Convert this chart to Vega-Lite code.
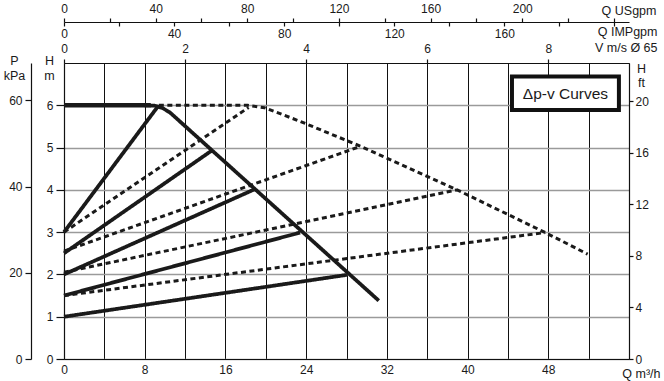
{
  "$schema": "https://vega.github.io/schema/vega-lite/v6.json",
  "width": 565,
  "height": 296,
  "autosize": {"type": "none"},
  "padding": {"left": 64, "top": 63, "right": 35, "bottom": 22},
  "background": "white",
  "config": {
    "view": {"stroke": null},
    "font": "Liberation Sans",
    "axis": {
      "labelFont": "Liberation Sans",
      "titleFont": "Liberation Sans",
      "labelFontSize": 12,
      "titleFontSize": 12.5,
      "titleFontWeight": "normal",
      "labelColor": "#1a1a1a",
      "titleColor": "#1a1a1a",
      "domainColor": "#111111",
      "tickColor": "#111111",
      "domainWidth": 1.2,
      "tickWidth": 1.2,
      "labelFlush": false,
      "labelOverlap": false
    }
  },
  "layer": [
    {
      "layer": [
        {
          "data": {
            "values": [
              {"series": "max6", "kind": "thick", "Q": 0, "H": 6.0},
              {"series": "max6", "kind": "thick", "Q": 8.6, "H": 6.0},
              {"series": "env", "kind": "solid", "Q": 8.0, "H": 6.0},
              {"series": "env", "kind": "solid", "Q": 9.0, "H": 5.99},
              {"series": "env", "kind": "solid", "Q": 9.8, "H": 5.93},
              {"series": "env", "kind": "solid", "Q": 10.5, "H": 5.83},
              {"series": "env", "kind": "solid", "Q": 31.2, "H": 1.38},
              {"series": "S1", "kind": "solid", "Q": 0, "H": 3.0},
              {"series": "S1", "kind": "solid", "Q": 9.36, "H": 5.99},
              {"series": "S2", "kind": "solid", "Q": 0, "H": 2.5},
              {"series": "S2", "kind": "solid", "Q": 14.65, "H": 4.93},
              {"series": "S3", "kind": "solid", "Q": 0, "H": 2.0},
              {"series": "S3", "kind": "solid", "Q": 18.95, "H": 4.02},
              {"series": "S4", "kind": "solid", "Q": 0, "H": 1.5},
              {"series": "S4", "kind": "solid", "Q": 23.4, "H": 2.99},
              {"series": "S5", "kind": "solid", "Q": 0, "H": 1.0},
              {"series": "S5", "kind": "solid", "Q": 28.05, "H": 1.99},
              {"series": "Denv", "kind": "dashed", "Q": 9.4, "H": 6.0},
              {"series": "Denv", "kind": "dashed", "Q": 18.2, "H": 6.0},
              {"series": "Denv", "kind": "dashed", "Q": 19.9, "H": 5.94},
              {"series": "Denv", "kind": "dashed", "Q": 23.4, "H": 5.62},
              {"series": "Denv", "kind": "dashed", "Q": 29.4, "H": 5.03},
              {"series": "Denv", "kind": "dashed", "Q": 38.96, "H": 4.0},
              {"series": "Denv", "kind": "dashed", "Q": 47.7, "H": 2.99},
              {"series": "Denv", "kind": "dashed", "Q": 51.9, "H": 2.48},
              {"series": "D1", "kind": "dashed", "Q": 0, "H": 3.0},
              {"series": "D1", "kind": "dashed", "Q": 18.3, "H": 5.95},
              {"series": "D2", "kind": "dashed", "Q": 0, "H": 2.55},
              {"series": "D2", "kind": "dashed", "Q": 29.4, "H": 5.03},
              {"series": "D3", "kind": "dashed", "Q": 0, "H": 2.05},
              {"series": "D3", "kind": "dashed", "Q": 38.96, "H": 4.0},
              {"series": "D4", "kind": "dashed", "Q": 0, "H": 1.5},
              {"series": "D4", "kind": "dashed", "Q": 47.7, "H": 2.99}
            ]
          },
          "mark": {"type": "line", "strokeCap": "butt", "strokeJoin": "round", "color": "#1a1a1a"},
          "encoding": {
            "x": {
              "field": "Q", "type": "quantitative",
              "scale": {"domain": [0, 56], "nice": false, "zero": false},
              "axis": {
                "orient": "bottom",
                "values": [0, 4, 8, 12, 16, 20, 24, 28, 32, 36, 40, 44, 48, 52, 56],
                "labelExpr": "datum.value % 8 == 0 && datum.value <= 48 ? datum.label : ''",
                "grid": true, "gridColor": "#111111", "gridWidth": 1,
                "ticks": false, "labelPadding": 5,
                "title": "Q m³/h", "titleX": 596, "titleY": 18, "titleAlign": "right", "titleBaseline": "alphabetic", "titleAnchor": null
              }
            },
            "y": {
              "field": "H", "type": "quantitative",
              "scale": {"domain": [0, 7], "nice": false, "zero": false},
              "axis": {
                "orient": "left",
                "values": [0, 1, 2, 3, 4, 5, 6],
                "grid": true, "gridColor": "#9a9a9a", "gridWidth": 1.5,
                "tickSize": 8, "labelPadding": 3,
                "title": ["H", "m"], "titleAngle": 0, "titleX": -15, "titleY": -9, "titleAlign": "center", "titleBaseline": "top", "titleLineHeight": 15
              }
            },
            "detail": {"field": "series"},
            "strokeDash": {"field": "kind", "type": "nominal", "scale": {"domain": ["thick", "solid", "dashed"], "range": [[1, 0], [1, 0], [5, 3.5]]}, "legend": null},
            "strokeWidth": {"field": "kind", "type": "nominal", "scale": {"domain": ["thick", "solid", "dashed"], "range": [4.5, 3, 4]}, "legend": null}
          }
        },
        {
          "data": {"values": [{"Q": 44.4, "Q2": 55.0, "H": 6.68, "H2": 5.89}]},
          "mark": {"type": "rect", "fill": "white", "stroke": "#111111", "strokeWidth": 4},
          "encoding": {
            "x": {"field": "Q", "type": "quantitative"},
            "x2": {"field": "Q2"},
            "y": {"field": "H", "type": "quantitative"},
            "y2": {"field": "H2"}
          }
        },
        {
          "data": {"values": [{"label": "Δp-v Curves", "Q": 49.7, "H": 6.27}]},
          "mark": {"type": "text", "font": "Liberation Sans Narrow, Liberation Sans, sans-serif", "fontSize": 15.5, "color": "#1a1a1a", "align": "center", "baseline": "middle"},
          "encoding": {
            "x": {"field": "Q", "type": "quantitative"},
            "y": {"field": "H", "type": "quantitative"},
            "text": {"field": "label"}
          }
        }
      ]
    },
    {
      "data": {"values": [{"usgpm": 0, "kpa": 0}]},
      "mark": {"type": "point", "opacity": 0},
      "encoding": {
        "x": {
          "field": "usgpm", "type": "quantitative",
          "scale": {"domain": [0, 246.6], "nice": false, "zero": false},
          "axis": {
            "orient": "top", "offset": 41,
            "values": [0, 20, 40, 60, 80, 100, 120, 140, 160, 180, 200, 220, 240],
            "labelExpr": "datum.value % 40 == 0 && datum.value <= 200 ? datum.label : ''",
            "tickSize": 4, "labelPadding": 3, "grid": false,
            "title": "Q USgpm", "titleX": 592, "titleY": -8, "titleAlign": "right", "titleBaseline": "alphabetic", "titleAnchor": null
          }
        },
        "y": {
          "field": "kpa", "type": "quantitative",
          "scale": {"domain": [0, 68.67], "nice": false, "zero": false},
          "axis": {
            "orient": "left", "offset": 33,
            "values": [0, 20, 40, 60],
            "tickSize": 6, "labelPadding": 3, "grid": false,
            "title": ["P", "kPa"], "titleAngle": 0, "titleX": -17, "titleY": -9, "titleAlign": "center", "titleBaseline": "top", "titleLineHeight": 15
          }
        }
      }
    },
    {
      "data": {"values": [{"impgpm": 0, "ft": 0}]},
      "mark": {"type": "point", "opacity": 0},
      "encoding": {
        "x": {
          "field": "impgpm", "type": "quantitative",
          "scale": {"domain": [0, 205.3], "nice": false, "zero": false},
          "axis": {
            "orient": "bottom", "offset": -337,
            "values": [0, 20, 40, 60, 80, 100, 120, 140, 160, 180, 200],
            "labelExpr": "datum.value % 40 == 0 && datum.value <= 160 ? datum.label : ''",
            "tickSize": 4, "labelPadding": 2, "grid": false, "domain": false,
            "title": "Q IMPgpm", "titleX": 593, "titleY": 13, "titleAlign": "right", "titleBaseline": "alphabetic", "titleAnchor": null
          }
        },
        "y": {
          "field": "ft", "type": "quantitative",
          "scale": {"domain": [0, 22.966], "nice": false, "zero": false},
          "axis": {
            "orient": "right",
            "values": [0, 4, 8, 12, 16, 20],
            "tickSize": 4, "labelPadding": 2, "grid": false,
            "title": ["H", "ft"], "titleAngle": 0, "titleX": 12, "titleY": -1, "titleAlign": "center", "titleBaseline": "top", "titleLineHeight": 14
          }
        }
      }
    },
    {
      "data": {"values": [{"v": 0}]},
      "mark": {"type": "point", "opacity": 0},
      "encoding": {
        "x": {
          "field": "v", "type": "quantitative",
          "scale": {"domain": [0, 9.3333], "nice": false, "zero": false},
          "axis": {
            "orient": "top", "offset": 0,
            "values": [0, 2, 4, 6, 8],
            "tickSize": 4, "labelPadding": 4, "grid": false,
            "title": "V m/s Ø 65", "titleX": 593, "titleY": -12, "titleAlign": "right", "titleBaseline": "alphabetic", "titleAnchor": null
          }
        }
      }
    }
  ],
  "resolve": {
    "scale": {"x": "independent", "y": "independent"},
    "axis": {"x": "independent", "y": "independent"}
  }
}
